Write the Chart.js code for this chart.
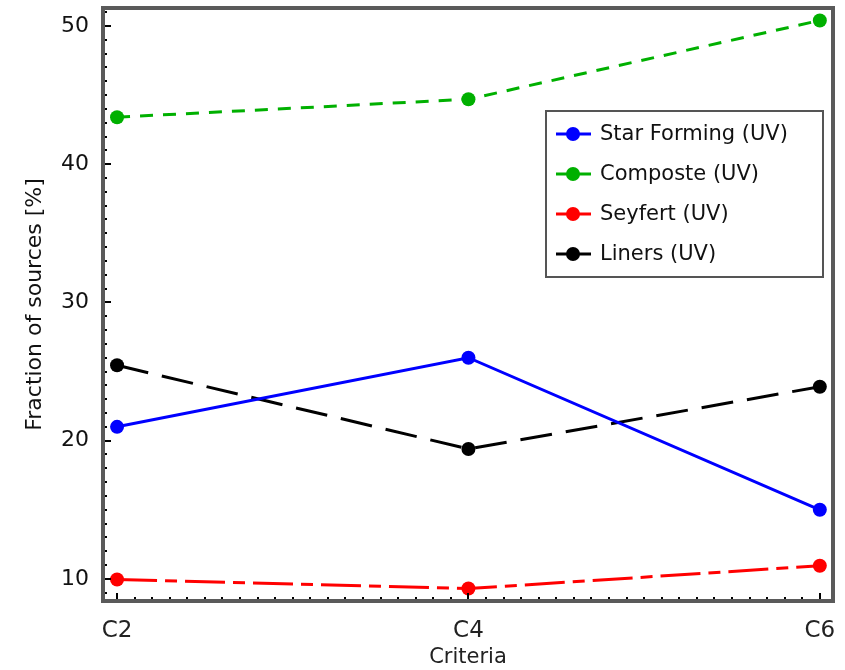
<!DOCTYPE html>
<html>
<head>
<meta charset="utf-8">
<script src="https://cdn.jsdelivr.net/npm/chart.js@4/dist/chart.umd.min.js"></script>
<style>
  html, body { margin: 0; padding: 0; background: #fff; }
  #wrap { width: 845px; height: 670px; }
</style>
</head>
<body>
<div id="wrap"><canvas id="chart" width="845" height="670"></canvas></div>
<script>
// criteria on the x axis (C2, C4, C6)
var criteria = [2, 4, 6];
var yTicks = [10, 20, 30, 40, 50];

var starForming = [21.0, 26.0, 15.0];
var composite = [43.4, 44.7, 50.4];
var seyfert = [9.95, 9.3, 10.95];
var liners = [25.45, 19.4, 23.9];

var labels = ['Star Forming (UV)', 'Composte (UV)', 'Seyfert (UV)', 'Liners (UV)'];
var colors = ['#0000ff', '#00b000', '#ff0000', '#000000'];
var dashes = [[], [13, 10], [40, 8, 12, 8], [32, 14]];

function pts(vals) {
    return criteria.map(function (c, i) { return { x: c, y: vals[i] }; });
}

var series = [starForming, composite, seyfert, liners];
var datasets = series.map(function (vals, i) {
    return {
        label: labels[i],
        data: pts(vals),
        borderColor: colors[i],
        backgroundColor: colors[i],
        borderWidth: 3,
        borderDash: dashes[i],
        pointRadius: 7,
        pointHoverRadius: 7,
        pointBorderWidth: 0,
        tension: 0
    };
});

var FONT = '"DejaVu Sans", sans-serif';

// frame, inward ticks and legend box
var decor = {
    id: 'decor',
    afterDraw: function (chart) {
        var ctx = chart.ctx;
        var a = chart.chartArea;
        var xs = chart.scales.x, ys = chart.scales.y;
        ctx.save();
        ctx.strokeStyle = '#000';
        ctx.lineWidth = 2;
        // minor x ticks every 0.1
        for (var v = 2; v <= 6.0001; v += 0.1) {
            var px = Math.round(xs.getPixelForValue(v));
            var major = Math.abs(v - Math.round(v / 2) * 2) < 0.001;
            ctx.beginPath();
            ctx.moveTo(px, a.bottom);
            ctx.lineTo(px, a.bottom - (major ? 8 : 4));
            ctx.stroke();
        }
        // minor y ticks every 1
        for (var w = 9; w <= 51; w++) {
            var py = Math.round(ys.getPixelForValue(w));
            if (py < a.top || py > a.bottom) continue;
            var maj = w % 10 === 0;
            ctx.beginPath();
            ctx.moveTo(a.left, py);
            ctx.lineTo(a.left + (maj ? 8 : 4), py);
            ctx.stroke();
        }
        // frame
        ctx.strokeStyle = '#5a5a5a';
        ctx.lineWidth = 4;
        ctx.strokeRect(a.left, a.top, a.right - a.left, a.bottom - a.top);

        // legend
        var lx = 546, ly = 111, lw = 277, lh = 166;
        ctx.fillStyle = '#fff';
        ctx.fillRect(lx, ly, lw, lh);
        ctx.strokeStyle = '#555';
        ctx.lineWidth = 2;
        ctx.strokeRect(lx, ly, lw, lh);
        ctx.font = '21px ' + FONT;
        ctx.textBaseline = 'middle';
        chart.data.datasets.forEach(function (ds, i) {
            var cy = ly + 23 + i * 40;
            ctx.strokeStyle = ds.borderColor;
            ctx.fillStyle = ds.borderColor;
            ctx.lineWidth = 3;
            ctx.beginPath();
            ctx.moveTo(lx + 10, cy);
            ctx.lineTo(lx + 45, cy);
            ctx.stroke();
            ctx.beginPath();
            ctx.arc(lx + 27, cy, 7, 0, Math.PI * 2);
            ctx.fill();
            ctx.fillStyle = '#111';
            ctx.fillText(ds.label, lx + 54, cy + 1);
        });
        ctx.restore();
    }
};

var ctx = document.getElementById('chart').getContext('2d');
new Chart(ctx, {
    type: 'line',
    data: { datasets: datasets },
    options: {
        responsive: false,
        animation: false,
        layout: { padding: { top: 8, right: 12, left: 0, bottom: 0 } },
        plugins: { legend: { display: false }, tooltip: { enabled: false } },
        scales: {
            x: {
                type: 'linear',
                min: 1.92,
                max: 6.075,
                afterBuildTicks: function (s) {
                    s.ticks = criteria.map(function (c) { return { value: c }; });
                },
                afterFit: function (s) {
                    s.height = 69;
                    s.paddingLeft = 0;
                    s.paddingRight = 0;
                },
                grid: { display: false },
                border: { display: false },
                ticks: {
                    padding: 8,
                    color: '#222',
                    font: { family: FONT, size: 23 },
                    callback: function (v) { return 'C' + v; }
                },
                title: {
                    display: true,
                    text: 'Criteria',
                    color: '#222',
                    padding: { top: 2, bottom: 0 },
                    font: { family: FONT, size: 21 }
                }
            },
            y: {
                min: 8.4,
                max: 51.3,
                afterBuildTicks: function (s) {
                    s.ticks = yTicks.map(function (t) { return { value: t }; });
                },
                afterFit: function (s) {
                    s.width = 103;
                    s.paddingTop = 0;
                    s.paddingBottom = 0;
                },
                grid: { display: false },
                border: { display: false },
                ticks: {
                    padding: 6,
                    color: '#111',
                    font: { family: FONT, size: 22 }
                },
                title: {
                    display: true,
                    text: 'Fraction of sources [%]',
                    color: '#111',
                    padding: { top: 22, bottom: 0 },
                    font: { family: FONT, size: 22 }
                }
            }
        }
    },
    plugins: [decor]
});
</script>
</body>
</html>
